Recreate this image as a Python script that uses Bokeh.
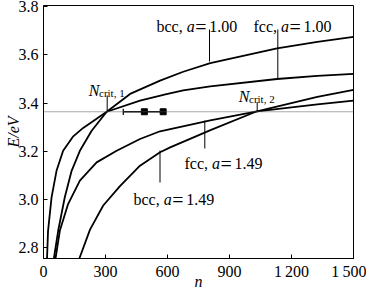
import numpy as np
from bokeh.plotting import figure
from bokeh.models import Label, FixedTicker, Range1d, Span
from bokeh.embed import file_html
from bokeh.resources import INLINE

# ---------------- data ----------------
fcc100_n = [17, 22, 39, 63, 95, 144, 192, 306, 467, 590, 676, 807, 1130, 1325, 1500]
fcc100_E = [2.754, 2.870, 3.009, 3.119, 3.202, 3.262, 3.297, 3.364, 3.410, 3.436, 3.453, 3.469, 3.500, 3.513, 3.521]

bcc100_n = [50, 71, 103, 136, 176, 233, 306, 419, 564, 676, 807, 1130, 1325, 1500]
bcc100_E = [2.754, 2.870, 3.009, 3.119, 3.202, 3.285, 3.364, 3.438, 3.493, 3.530, 3.566, 3.627, 3.654, 3.675]

fcc149_n = [58, 79, 119, 176, 257, 354, 467, 564, 807, 1033, 1325, 1500]
fcc149_E = [2.754, 2.870, 2.981, 3.078, 3.154, 3.202, 3.251, 3.283, 3.328, 3.366, 3.395, 3.410]

bcc149_n = [173, 225, 289, 370, 467, 564, 613, 808, 1033, 1325, 1500]
bcc149_E = [2.754, 2.875, 2.975, 3.055, 3.140, 3.196, 3.216, 3.288, 3.366, 3.426, 3.455]

E_crit = 3.364            # horizontal reference level
err_lo_n = 386            # left end of the error bar
marker_n = [488, 579]     # square markers
x_ticks = [0, 300, 600, 900, 1200, 1500]
x_tick_labels = ["0", "300", "600", "900", "1\u2009200", "1\u2009500"]
y_ticks = [2.8, 3.0, 3.2, 3.4, 3.6, 3.8]
y_tick_labels = ["2.8", "3.0", "3.2", "3.4", "3.6", "3.8"]

# ---------------- figure ----------------
W, H = 366, 292
XMIN, XMAX = 0, 1500
YMIN, YMAX = 2.755, 3.805
FL, FR, FT, FB = 43, 353, 5, 258   # plot frame in pixels
FONT = "Liberation Serif"

p = figure(width=W, height=H, output_backend="svg", toolbar_location=None,
           x_range=Range1d(XMIN, XMAX), y_range=Range1d(YMIN, YMAX),
           min_border_left=FL, min_border_right=W - FR,
           min_border_top=FT, min_border_bottom=H - FB)
p.background_fill_color = "white"
p.border_fill_color = "white"
p.grid.visible = False
p.outline_line_color = "black"
p.outline_line_width = 1

for ax in (p.xaxis, p.yaxis):
    ax.axis_line_color = "black"
    ax.major_tick_in = 4
    ax.major_tick_out = 0
    ax.minor_tick_line_color = None
    ax.major_tick_line_color = "black"
    ax.major_label_text_font = FONT
    ax.major_label_text_font_size = "16px"
    ax.major_label_text_color = "black"
    ax.axis_label_text_font = FONT
    ax.axis_label_text_font_size = "16px"
    ax.axis_label_text_color = "black"
    ax.axis_label_text_font_style = "italic"
p.yaxis.major_label_standoff = 5
p.xaxis.major_label_standoff = 4
p.xaxis.ticker = FixedTicker(ticks=x_ticks)
p.yaxis.ticker = FixedTicker(ticks=y_ticks)
p.xaxis.major_label_overrides = {t: l for t, l in zip(x_ticks, x_tick_labels)}
p.yaxis.major_label_overrides = {t: l for t, l in zip(y_ticks, y_tick_labels)}
p.yaxis.axis_label = "E/eV"
p.yaxis.axis_label_standoff = -6
p.xaxis.axis_label = "n"
p.xaxis.axis_label_standoff = -10


def nx(px):
    return XMIN + (px - FL) / (FR - FL) * (XMAX - XMIN)


def ey(py):
    return YMAX - (py - FT) / (FB - FT) * (YMAX - YMIN)


# reference level
p.add_layout(Span(location=E_crit, dimension="width", line_color="#555555",
                  line_width=1, line_dash="1 1"))

# curves
for xs, ys in [(fcc100_n, fcc100_E), (bcc100_n, bcc100_E),
               (fcc149_n, fcc149_E), (bcc149_n, bcc149_E)]:
    p.line(xs, ys, line_color="black", line_width=1.8)

# error bar + markers
p.segment(x0=[err_lo_n], y0=[E_crit], x1=[marker_n[-1]], y1=[E_crit],
          line_color="black", line_width=1.5)
p.segment(x0=[err_lo_n], y0=[E_crit - 0.013], x1=[err_lo_n], y1=[E_crit + 0.013],
          line_color="black", line_width=1.2)
p.scatter(marker_n, [E_crit] * len(marker_n), marker="square", size=6,
          fill_color="black", line_color="black")


def txt(px, py, s, size=16, italic=False):
    p.add_layout(Label(x=nx(px), y=ey(py), text=s, text_font=FONT,
                       text_font_size=f"{size}px",
                       text_font_style="italic" if italic else "normal",
                       text_align="left", text_baseline="alphabetic",
                       text_color="black"))


def phase_label(px, py, phase, aval):
    w0 = 30.2 if phase == "bcc" else 27.5
    txt(px, py, phase + ",")
    txt(px + w0, py, "a", italic=True)
    txt(px + w0 + 8.6, py + 0.5, "=", size=20)
    txt(px + w0 + 22.5, py, aval)


def leader(px, py0, py1):
    p.segment(x0=[nx(px)], y0=[ey(py0)], x1=[nx(px)], y1=[ey(py1)],
              line_color="black", line_width=1)


phase_label(156, 25.5, "bcc", "1.00")
leader(209, 29, 61)
phase_label(253, 25.5, "fcc", "1.00")
leader(277.3, 29, 77.5)
phase_label(184, 163.3, "fcc", "1.49")
leader(204.3, 148, 120)
phase_label(133, 199.3, "bcc", "1.49")
leader(159.5, 182, 150)

# N_crit labels
txt(88.3, 90, "N", italic=True)
txt(98.5, 92.5, "crit, 1", size=11)
leader(106.7, 95, 111)
txt(238.3, 96, "N", italic=True)
txt(248.5, 98.5, "crit, 2", size=11)
leader(256.7, 101.5, 110)

open("out.html", "w").write(file_html(p, INLINE))
